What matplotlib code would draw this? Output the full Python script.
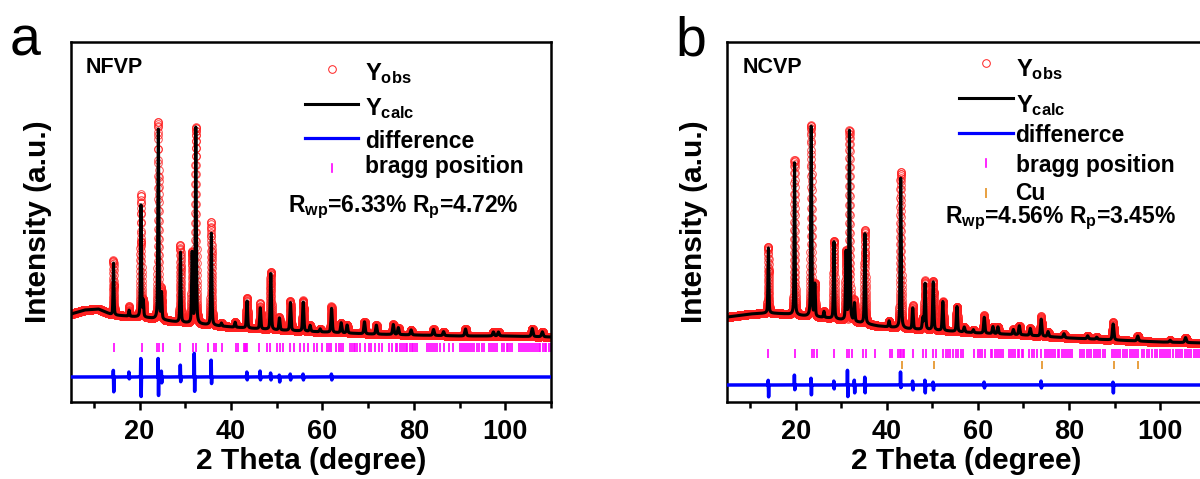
import matplotlib
matplotlib.use('Agg')
import matplotlib.pyplot as plt
import numpy as np

plt.rcParams['font.family'] = ['Liberation Sans', 'DejaVu Sans']
plt.rcParams['font.weight'] = 'bold'
plt.rcParams['mathtext.fontset'] = 'custom'
plt.rcParams['mathtext.rm'] = 'Liberation Sans:bold'
plt.rcParams['mathtext.bf'] = 'Liberation Sans:bold'
plt.rcParams['mathtext.it'] = 'Liberation Sans:bold'

# ---- NFVP (panel a) ----
bg_x_a = [5, 8, 11, 14, 17, 22, 28, 35, 40, 50, 60, 70, 80, 90, 100, 110]
bg_y_a = [88, 92, 93, 87, 86, 84, 80, 77, 75, 72, 70, 68, 67, 66, 66, 65]
pk_pos_a = [14.3, 17.7, 20.3, 20.8, 24.1, 24.8, 28.95, 31.5, 32.3, 35.7, 37.9, 40.9, 43.5,
            46.4, 48.7, 50.6, 53.0, 55.8, 57.3, 59.5, 62.0, 64.1, 65.4, 69.2, 71.8, 75.5,
            76.6, 79.4, 84.3, 86.5, 91.3, 97.4, 98.5, 105.9, 108.1]
pk_h_a = [52, 6, 112, 16, 190, 26, 70, 70, 196, 92, 3, 5, 27,
          21, 56, 12, 28, 29, 6, 3, 24, 10, 8, 12, 9, 10,
          7, 5, 6, 4, 7, 4, 4, 8, 5]
res_pos_a = [14.3, 17.7, 20.3, 24.1, 24.8, 28.95, 32.0, 35.7, 43.5, 46.4, 48.7, 50.6, 53.0, 55.8, 62.0]
res_up_a = [7, 5, 19, 19, 6, 12, 24, 17, 5, 6, 4, 2, 3, 3, 3]
res_dn_a = [15, 2, 20, 19, 6, 5, 15, 7, 3, 3, 3, 5, 3, 3, 3]
bragg_a = [14.4, 20.5, 23.9, 24.3, 25.1, 28.9, 31.7, 32.4, 34.9, 36.2, 36.7, 38.0, 41.1, 41.6,
           42.9, 43.1, 43.3, 43.6, 46.2, 47.9, 48.6, 50.1, 50.8, 51.4, 53.0, 53.7, 55.0, 56.0,
           56.8, 58.1, 58.8, 59.9, 61.0, 61.4, 61.9, 63.0, 63.6, 64.1, 64.6, 66.1, 66.4, 66.8,
           67.2, 67.6, 68.3, 69.4, 70.1, 70.7, 71.6, 72.3, 73.1, 74.5, 75.3, 76.0, 76.4, 76.9,
           77.3, 77.8, 78.2, 78.6, 79.1, 79.5, 79.9, 80.3, 80.7, 82.9, 83.3, 83.8, 84.2, 84.7,
           85.1, 85.7, 86.7, 87.7, 88.6, 90.2, 90.6, 91.0, 91.5, 91.9, 92.3, 92.7, 93.1, 93.9,
           94.3, 94.8, 95.3, 96.4, 96.8, 97.3, 97.7, 98.2, 99.3, 99.8, 100.3, 100.7, 101.1,
           101.5, 103.0, 103.4, 103.8, 104.3, 104.7, 105.1, 105.6, 106.0, 106.4, 106.9, 107.3,
           107.7, 108.2, 108.6, 109.0, 109.5, 109.9]

# ---- NCVP (panel b) ----
bg_x_b = [5, 10, 14, 18, 22, 27, 33, 38, 45, 50, 60, 70, 80, 90, 100, 110]
bg_y_b = [85, 88, 89, 88, 86, 84, 80, 76, 73, 72, 69, 67, 64, 62, 60, 59]
pk_pos_b = [14.0, 19.75, 23.4, 24.2, 26.2, 28.4, 31.05, 31.8, 32.9, 35.2, 40.5, 43.05, 45.7,
            47.9, 48.4, 50.2, 52.3, 55.4, 57.0, 59.0, 61.4, 63.3, 64.4, 67.8, 69.1, 71.5,
            73.9, 75.4, 78.9, 84.1, 86.1, 89.7, 95.1, 102.2, 105.6]
pk_h_b = [65, 152, 190, 32, 6, 77, 68, 190, 18, 90, 6, 150, 21,
          11, 46, 48, 29, 25, 5, 3, 16, 7, 7, 5, 9, 7,
          17, 5, 4, 3, 2, 16, 5, 2, 5]
res_pos_b = [14.0, 19.75, 23.4, 28.4, 31.4, 32.9, 35.2, 43.05, 45.7, 48.4, 50.2, 61.4, 73.9, 89.7]
res_up_b = [5, 10, 7, 4, 15, 5, 8, 13, 4, 5, 3, 3, 4, 3]
res_dn_b = [12, 5, 10, 4, 12, 8, 8, 3, 5, 8, 5, 3, 3, 8]
bragg_b = [14.0, 19.85, 23.5, 24.0, 24.6, 28.5, 31.3, 31.8, 32.3, 34.7, 35.4, 37.4, 40.6, 41.1,
           42.5, 42.8, 43.1, 43.5, 43.8, 45.8, 47.9, 48.6, 50.1, 50.8, 52.4, 52.9, 53.4, 53.9,
           54.6, 55.1, 55.7, 56.2, 56.8, 59.2, 60.1, 60.5, 61.0, 61.6, 62.8, 63.2, 63.7, 64.2,
           64.7, 65.1, 65.6, 66.9, 67.3, 67.8, 68.2, 68.7, 69.1, 69.6, 70.0, 71.3, 71.8, 72.4,
           72.9, 73.8, 74.7, 75.1, 75.6, 76.1, 76.6, 77.0, 77.5, 77.9, 78.4, 78.8, 79.3, 79.7,
           80.2, 80.6, 82.4, 82.9, 83.4, 83.9, 84.4, 84.9, 85.4, 85.9, 86.4, 86.9, 87.4, 87.9,
           89.4, 89.8, 90.3, 90.8, 91.3, 91.8, 92.3, 92.8, 93.3, 93.8, 94.3, 94.8, 95.2, 96.0,
           96.5, 97.1, 97.6, 98.2, 98.9, 99.4, 99.9, 100.4, 100.9, 101.4, 101.8, 102.2, 102.9,
           103.4, 103.9, 104.4, 104.9, 105.4, 105.9, 106.4, 106.9, 107.4, 107.9, 108.4, 108.8,
           109.3, 109.8]
cu_b = [43.3, 50.4, 74.1, 89.9, 95.1]

x = np.arange(5, 110.001, 0.01)


def peak(x0, fwhm):
    g = np.exp(-4 * np.log(2) * (x - x0) ** 2 / fwhm ** 2)
    l = 1 / (1 + 4 * (x - x0) ** 2 / fwhm ** 2)
    return 0.6 * g + 0.4 * l


def pattern(bgx, bgy, pos, h, rpos, rup, rdn):
    calc = np.interp(x, bgx, bgy)
    for p, a in zip(pos, h):
        calc = calc + a * peak(p, 0.2 + 0.002 * p)
    res = np.zeros_like(x)
    for p, u, d in zip(rpos, rup, rdn):
        res = res + u * peak(p - 0.04, 0.05) - d * peak(p + 0.05, 0.05)
    return calc, res


calc_a, res_a = pattern(bg_x_a, bg_y_a, pk_pos_a, pk_h_a, res_pos_a, res_up_a, res_dn_a)
calc_b, res_b = pattern(bg_x_b, bg_y_b, pk_pos_b, pk_h_b, res_pos_b, res_up_b, res_dn_b)

fig = plt.figure(figsize=(12, 4.79), dpi=100)
ax1 = fig.add_axes([71 / 1200, 77 / 479, 480 / 1200, 360 / 479])
ax2 = fig.add_axes([727.4 / 1200, 77 / 479, 478.2 / 1200, 360 / 479])


def draw(ax, calc, res, diff0, bragg, tick_lo, tick_hi):
    ax.plot(x, calc + res, 'o', mfc='none', mec='#ff2020', mew=0.7, ms=5.5, alpha=0.8, zorder=2)
    ax.plot(x, calc, color='black', lw=2.2, zorder=3)
    ax.plot(x, res + diff0, color='#0000ff', lw=2.5, zorder=3)
    ax.vlines(bragg, tick_lo, tick_hi, color='#ff00ff', lw=1.2)
    ax.set_xlim(5, 110)
    ax.set_ylim(0, 360)
    ax.set_yticks([])
    ax.set_xticks([20, 40, 60, 80, 100])
    ax.set_xticks([10, 30, 50, 70, 90, 110], minor=True)
    ax.tick_params(axis='x', which='major', direction='out', length=6, width=1.8, labelsize=19.5, pad=6)
    ax.tick_params(axis='x', which='minor', direction='out', length=4, width=1.8)
    for s in ax.spines.values():
        s.set_linewidth(1.8)
    ax.set_xlabel('2 Theta (degree)', fontsize=21.5, fontweight='bold', labelpad=2)
    ax.set_ylabel('Intensity (a.u.)', fontsize=21.5, fontweight='bold', labelpad=14)


draw(ax1, calc_a, res_a, 25, bragg_a, 50.5, 59.5)
draw(ax2, calc_b, res_b, 17, bragg_b, 44, 53)
ax2.vlines(cu_b, 33, 41, color='#e8a040', lw=1.4)

# legends
tr = ax1.transAxes
ax1.text(0.031, 0.914, 'NFVP', transform=tr, fontsize=15.5, fontweight='bold')
ax1.plot([0.544], [0.925], 'o', mfc='none', mec='#ff2020', mew=0.7, ms=5.5, transform=tr)
ax1.plot([0.4875, 0.598], [0.828, 0.828], color='black', lw=2.2, transform=tr)
ax1.plot([0.4875, 0.598], [0.733, 0.733], color='#0000ff', lw=2.3, transform=tr)
ax1.plot([0.544, 0.544], [0.639, 0.661], color='#ff00ff', lw=1.2, transform=tr)
ax1.text(0.6125, 0.894, r'$\mathbf{Y_{obs}}$', transform=tr, fontsize=17)
ax1.text(0.6125, 0.797, r'$\mathbf{Y_{calc}}$', transform=tr, fontsize=17)
ax1.text(0.6125, 0.706, 'difference', transform=tr, fontsize=16.5, fontweight='bold')
ax1.text(0.6125, 0.636, 'bragg position', transform=tr, fontsize=16.5, fontweight='bold')
ax1.text(0.452, 0.528, r'$\mathbf{R_{wp}}$=6.33% $\mathbf{R_p}$=4.72%', transform=tr,
         fontsize=16.5, fontweight='bold')

tr = ax2.transAxes
ax2.text(0.031, 0.915, 'NCVP', transform=tr, fontsize=15.5, fontweight='bold')
ax2.plot([0.541], [0.941], 'o', mfc='none', mec='#ff2020', mew=0.7, ms=5.5, transform=tr)
ax2.plot([0.485, 0.597], [0.844, 0.844], color='black', lw=2.2, transform=tr)
ax2.plot([0.485, 0.597], [0.746, 0.746], color='#0000ff', lw=2.3, transform=tr)
ax2.plot([0.541, 0.541], [0.652, 0.674], color='#ff00ff', lw=1.2, transform=tr)
ax2.plot([0.541, 0.541], [0.569, 0.591], color='#e8a040', lw=1.4, transform=tr)
ax2.text(0.6027, 0.905, r'$\mathbf{Y_{obs}}$', transform=tr, fontsize=17)
ax2.text(0.6027, 0.806, r'$\mathbf{Y_{calc}}$', transform=tr, fontsize=17)
ax2.text(0.6027, 0.723, 'diffenerce', transform=tr, fontsize=16.5, fontweight='bold')
ax2.text(0.6027, 0.640, 'bragg position', transform=tr, fontsize=16.5, fontweight='bold')
ax2.text(0.6027, 0.561, 'Cu', transform=tr, fontsize=16.5, fontweight='bold')
ax2.text(0.455, 0.497, r'$\mathbf{R_{wp}}$=4.56% $\mathbf{R_p}$=3.45%', transform=tr,
         fontsize=16.5, fontweight='bold')

fig.text(0.008, 0.885, 'a', fontsize=40, fontweight='normal')
fig.text(0.563, 0.885, 'b', fontsize=40, fontweight='normal')

fig.savefig('out.png', dpi=100)
